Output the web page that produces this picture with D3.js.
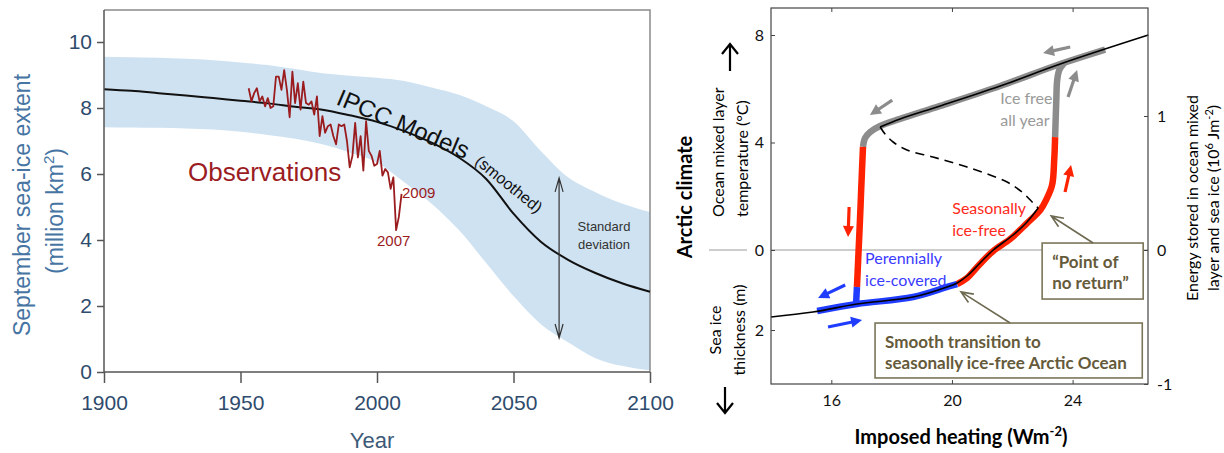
<!DOCTYPE html>
<html>
<head>
<meta charset="utf-8">
<script src="https://cdn.jsdelivr.net/npm/d3@7"></script>
<style>
  body { margin: 0; background: #fff; }
  svg { display: block; }
</style>
</head>
<body>
<script>
// ---------- left panel data: September sea-ice extent (million km2) ----------
var modelYears = [1900, 1910, 1920, 1930, 1940, 1950, 1960, 1970, 1980, 1990, 2000,
                  2010, 2020, 2030, 2040, 2050, 2060, 2070, 2080, 2090, 2100];
var modelMean  = [8.57, 8.52, 8.45, 8.38, 8.30, 8.22, 8.14, 8.04, 7.95, 7.78, 7.58,
                  7.30, 6.95, 6.50, 5.85, 4.80, 3.95, 3.40, 3.00, 2.68, 2.43];
var sdUpper    = [9.55, 9.54, 9.52, 9.49, 9.45, 9.38, 9.30, 9.18, 9.05, 8.98, 8.92,
                  8.82, 8.62, 8.40, 8.05, 7.60, 6.70, 5.90, 5.45, 5.10, 4.85];
var sdLower    = [7.42, 7.41, 7.40, 7.38, 7.35, 7.28, 7.18, 7.07, 6.90, 6.65, 6.35,
                  5.75, 5.10, 4.30, 3.30, 2.30, 1.45, 0.90, 0.42, 0.18, 0.05];

var obsYears = [1953, 1954, 1955, 1956, 1957, 1958, 1959, 1960, 1961, 1962, 1963, 1964,
                1965, 1966, 1967, 1968, 1969, 1970, 1971, 1972, 1973, 1974, 1975, 1976,
                1977, 1978, 1979, 1980, 1981, 1982, 1983, 1984, 1985, 1986, 1987, 1988,
                1989, 1990, 1991, 1992, 1993, 1994, 1995, 1996, 1997, 1998, 1999, 2000,
                2001, 2002, 2003, 2004, 2005, 2006, 2007, 2008, 2009];
var obsExtent = [8.60, 8.20, 8.45, 8.60, 8.20, 8.35, 8.05, 8.30, 8.00, 8.05, 8.95, 8.95,
                 8.55, 9.15, 8.55, 7.72, 9.10, 8.15, 8.75, 7.95, 8.80, 8.15, 8.10, 8.20,
                 7.80, 8.35, 7.15, 7.75, 7.25, 7.45, 7.50, 7.15, 6.90, 7.50, 7.45, 7.50,
                 7.00, 6.20, 6.55, 7.55, 6.50, 7.15, 6.10, 7.60, 6.70, 6.55, 6.25, 6.30,
                 6.70, 5.95, 6.15, 6.05, 5.55, 5.90, 4.30, 4.70, 5.40];

var extentTicks = [0, 2, 4, 6, 8, 10];
var yearTicks = [1900, 1950, 2000, 2050, 2100];
var sdArrow = {year: 2066.7, top: 5.88, bottom: 1.03};

// ---------- right panel data: Arctic climate vs imposed heating ----------
// points are [heating (W m-2), energy (10^6 J m-2)]
var lowerBranch = [[14.00, -0.500], [15.39, -0.463], [16.85, -0.403], [18.71, -0.351],
                   [19.84, -0.276], [20.17, -0.246], [20.50, -0.194], [20.93, -0.097],
                   [21.37, 0.000], [22.03, 0.112], [22.49, 0.209], [22.86, 0.313]];
var upperBranch = [[17.62, 0.918], [18.28, 0.978], [19.61, 1.075], [21.60, 1.224],
                   [23.59, 1.388], [26.51, 1.604]];
var unstableBranch = [[17.62, 0.918], [17.78, 0.866], [18.05, 0.806], [18.51, 0.746],
                      [19.37, 0.694], [20.50, 0.619], [21.83, 0.507], [22.36, 0.425],
                      [22.69, 0.351], [22.86, 0.313]];
var grayTop = [[25.08, 1.496], [23.59, 1.388], [21.60, 1.224], [19.61, 1.075],
               [18.28, 0.978], [17.62, 0.925], [17.29, 0.881], [17.12, 0.836], [17.05, 0.769]];
var redLeft = [[17.05, 0.769], [16.99, 0.448], [16.95, 0.224], [16.89, -0.075], [16.85, -0.276]];
var blueStub = [[16.85, -0.276], [16.82, -0.403]];
var blueLower = [[15.53, -0.455], [16.85, -0.403], [18.71, -0.351], [19.84, -0.276], [20.17, -0.254]];
var redRight = [[20.17, -0.254], [20.50, -0.209], [20.93, -0.104], [21.37, -0.007],
                [21.93, 0.082], [22.49, 0.201], [22.93, 0.299], [23.12, 0.373],
                [23.32, 0.485], [23.39, 0.672], [23.42, 0.843]];
var grayRight = [[23.42, 0.843], [23.46, 1.119], [23.49, 1.269], [23.56, 1.343], [23.72, 1.396]];

var heatTicks = [16, 20, 24];
var tempTicks = [0, 4, 8];
var thickTicks = [2];
var energyTicks = [-1, 0, 1];

var pathArrows = [
  {color: "#8c8c8c", from: [18.02, 1.119], to: [17.28, 1.007]},
  {color: "#8c8c8c", from: [23.92, 1.515], to: [23.02, 1.470]},
  {color: "#8c8c8c", from: [23.85, 1.142], to: [24.15, 1.343]},
  {color: "#ff2200", from: [16.59, 0.321], to: [16.555, 0.097]},
  {color: "#ff2200", from: [23.75, 0.433], to: [23.95, 0.634]},
  {color: "#1f3cff", from: [16.46, -0.261], to: [15.56, -0.358]},
  {color: "#1f3cff", from: [15.89, -0.575], to: [17.02, -0.522]}
];

var W = 1224, H = 453;
var svg = d3.select("body").append("svg").attr("width", W).attr("height", H);

// =================== LEFT PANEL ===================
var helv = "'Liberation Sans', Arial, Helvetica, sans-serif";
var xYear = d3.scaleLinear().domain([1900, 2100]).range([104, 650]);
var yExt = d3.scaleLinear().domain([0, 10]).range([372, 42]);
var plotTop = 10;

svg.append("clipPath").attr("id", "leftClip")
  .append("rect").attr("x", 104).attr("y", plotTop).attr("width", 546).attr("height", 362);

var left = svg.append("g");

//standard deviation band
var band = d3.area()
  .x(function(d, i){ return xYear(modelYears[i]); })
  .y0(function(d, i){ return yExt(sdLower[i]); })
  .y1(function(d, i){ return yExt(sdUpper[i]); })
  .curve(d3.curveMonotoneX);
left.append("path")
  .datum(modelYears)
  .attr("clip-path", "url(#leftClip)")
  .attr("d", band)
  .attr("fill", "#cfe2f1");

//frame (top and right)
left.append("path")
  .attr("d", "M104," + plotTop + "H650V372")
  .attr("fill", "none").attr("stroke", "#8a8a8a").attr("stroke-width", 1.5);

//model mean
var meanLine = d3.line()
  .x(function(d, i){ return xYear(modelYears[i]); })
  .y(function(d){ return yExt(d); })
  .curve(d3.curveMonotoneX);
left.append("path")
  .datum(modelMean)
  .attr("d", meanLine)
  .attr("fill", "none").attr("stroke", "#111").attr("stroke-width", 2);

//observations
var obsLine = d3.line()
  .x(function(d, i){ return xYear(obsYears[i]); })
  .y(function(d){ return yExt(d); });
left.append("path")
  .datum(obsExtent)
  .attr("d", obsLine)
  .attr("fill", "none").attr("stroke", "#9b1c1f").attr("stroke-width", 1.8)
  .attr("stroke-linejoin", "round");

//axes
var yAxisL = d3.axisLeft(yExt).tickValues(extentTicks).tickSize(7).tickPadding(5).tickFormat(d3.format("d"));
var gy = left.append("g").attr("transform", "translate(104,0)").call(yAxisL);
var xAxisL = d3.axisBottom(xYear).tickValues(yearTicks).tickSize(11).tickPadding(12).tickFormat(d3.format("d"));
var gx = left.append("g").attr("transform", "translate(0,372)").call(xAxisL);
[gy, gx].forEach(function(g){
  g.select(".domain").remove();
  g.selectAll(".tick line").attr("stroke", "#555").attr("stroke-width", 1.5);
  g.selectAll(".tick text").attr("fill", "#2e4b6d").style("font-family", helv).style("font-size", "21px");
});
left.append("path")
  .attr("d", "M104," + plotTop + "V372H650")
  .attr("fill", "none").attr("stroke", "#555").attr("stroke-width", 1.5);

//axis titles
left.append("text")
  .attr("transform", "translate(372,448)")
  .attr("text-anchor", "middle")
  .style("font-family", helv).style("font-size", "22px").attr("fill", "#3c5a78")
  .text("Year");
left.append("text")
  .attr("transform", "translate(22,205) rotate(-90)")
  .attr("text-anchor", "middle").attr("dy", "0.35em")
  .style("font-family", helv).style("font-size", "23px").attr("fill", "#4674a3")
  .text("September sea-ice extent");
var unit = left.append("text")
  .attr("transform", "translate(55,211) rotate(-90)")
  .attr("text-anchor", "middle").attr("dy", "0.35em")
  .style("font-family", helv).style("font-size", "23px").attr("fill", "#4674a3");
unit.append("tspan").text("(million km");
unit.append("tspan").attr("dy", -9).style("font-size", "15px").text("2");
unit.append("tspan").attr("dy", 9).text(")");

//labels
left.append("text").attr("x", 188).attr("y", 181)
  .style("font-family", helv).style("font-size", "26px").attr("fill", "#9b1c1f")
  .text("Observations");
left.append("text").attr("x", 402).attr("y", 198)
  .style("font-family", helv).style("font-size", "15px").attr("fill", "#9b1c1f")
  .text("2009");
left.append("text").attr("x", 377).attr("y", 246)
  .style("font-family", helv).style("font-size", "15px").attr("fill", "#9b1c1f")
  .text("2007");
left.append("text").attr("transform", "translate(335,104) rotate(23)")
  .style("font-family", helv).style("font-size", "24px").attr("fill", "#111")
  .text("IPCC Models");
left.append("text").attr("transform", "translate(474,163) rotate(39)")
  .style("font-family", helv).style("font-size", "16px").attr("fill", "#111")
  .text("(smoothed)");
left.append("text").attr("x", 604).attr("y", 231).attr("text-anchor", "middle")
  .style("font-family", helv).style("font-size", "13px").attr("fill", "#333")
  .text("Standard");
left.append("text").attr("x", 604).attr("y", 249).attr("text-anchor", "middle")
  .style("font-family", helv).style("font-size", "13px").attr("fill", "#333")
  .text("deviation");

//standard deviation double arrow
var ax = xYear(sdArrow.year), aTop = yExt(sdArrow.top), aBot = yExt(sdArrow.bottom);
left.append("path")
  .attr("d", "M" + ax + "," + aTop + "V" + aBot +
             "M" + (ax - 4) + "," + (aTop + 14) + "L" + ax + "," + aTop + "L" + (ax + 4) + "," + (aTop + 14) +
             "M" + (ax - 4) + "," + (aBot - 14) + "L" + ax + "," + aBot + "L" + (ax + 4) + "," + (aBot - 14))
  .attr("fill", "none").attr("stroke", "#333").attr("stroke-width", 1.2);

// =================== RIGHT PANEL ===================
var cal = "Lato, 'Open Sans', sans-serif";
var xH = d3.scaleLinear().domain([14, 26.5]).range([771, 1148]);
var yE = d3.scaleLinear().domain([-1, 1]).range([384, 116]);
var yT = d3.scaleLinear().domain([0, 8]).range([250, 35]);
var yI = d3.scaleLinear().domain([0, 2]).range([250, 330]);
var rTop = 8, rBot = 384, rLeft = 771, rRight = 1148;

var right = svg.append("g");

//zero line
right.append("line").attr("x1", rLeft).attr("x2", rRight).attr("y1", yE(0)).attr("y2", yE(0))
  .attr("stroke", "#9a9a9a").attr("stroke-width", 1);
right.append("line").attr("x1", 709).attr("x2", 747).attr("y1", yE(0)).attr("y2", yE(0))
  .attr("stroke", "#9a9a9a").attr("stroke-width", 1);

var curve = d3.line()
  .x(function(d){ return xH(d[0]); })
  .y(function(d){ return yE(d[1]); })
  .curve(d3.curveCatmullRom.alpha(0.5));

//thick coloured paths
[[grayTop, "#8c8c8c"], [grayRight, "#8c8c8c"], [redLeft, "#ff2200"], [redRight, "#ff2200"],
 [blueLower, "#1f3cff"], [blueStub, "#1f3cff"]].forEach(function(p){
  right.append("path").datum(p[0]).attr("d", curve)
    .attr("fill", "none").attr("stroke", p[1]).attr("stroke-width", 6.5)
    .attr("stroke-linejoin", "round");
});

//equilibrium branches
right.append("path").datum(lowerBranch).attr("d", curve)
  .attr("fill", "none").attr("stroke", "#000").attr("stroke-width", 1.6);
right.append("path").datum(upperBranch).attr("d", curve)
  .attr("fill", "none").attr("stroke", "#000").attr("stroke-width", 1.6);
right.append("path").datum(unstableBranch).attr("d", curve)
  .attr("fill", "none").attr("stroke", "#000").attr("stroke-width", 1.6)
  .attr("stroke-dasharray", "9,6");

//direction arrows
function solidArrow(g, x1, y1, x2, y2, color){
  var dx = x2 - x1, dy = y2 - y1, len = Math.sqrt(dx * dx + dy * dy);
  var ux = dx / len, uy = dy / len, hl = 11, hw = 5.5;
  var bx = x2 - ux * hl, by = y2 - uy * hl;
  g.append("line").attr("x1", x1).attr("y1", y1).attr("x2", bx + ux).attr("y2", by + uy)
    .attr("stroke", color).attr("stroke-width", 3.2);
  g.append("polygon")
    .attr("points", [[x2, y2], [bx - uy * hw, by + ux * hw], [bx + uy * hw, by - ux * hw]].join(" "))
    .attr("fill", color);
}
pathArrows.forEach(function(a){
  solidArrow(right, xH(a.from[0]), yE(a.from[1]), xH(a.to[0]), yE(a.to[1]), a.color);
});

//frame
right.append("rect").attr("x", rLeft).attr("y", rTop)
  .attr("width", rRight - rLeft).attr("height", rBot - rTop)
  .attr("fill", "none").attr("stroke", "#444").attr("stroke-width", 1.2);

//axes
function styleAxis(g){
  g.select(".domain").remove();
  g.selectAll(".tick line").attr("stroke", "#444");
  g.selectAll(".tick text").attr("fill", "#111").style("font-family", cal).style("font-size", "16px");
}
var fmt = function(d){ return String(d); };
right.append("g").attr("transform", "translate(0," + rBot + ")")
  .call(d3.axisBottom(xH).tickValues(heatTicks).tickSizeInner(-4).tickSizeOuter(0).tickPadding(11).tickFormat(fmt))
  .call(styleAxis);
right.append("g").attr("transform", "translate(0," + rTop + ")")
  .call(d3.axisTop(xH).tickValues(heatTicks).tickSizeInner(-4).tickSizeOuter(0).tickFormat(""))
  .call(styleAxis);
right.append("g").attr("transform", "translate(" + rLeft + ",0)")
  .call(d3.axisLeft(yT).tickValues(tempTicks).tickSizeInner(-4).tickSizeOuter(0).tickPadding(7).tickFormat(fmt))
  .call(styleAxis);
right.append("g").attr("transform", "translate(" + rLeft + ",0)")
  .call(d3.axisLeft(yI).tickValues(thickTicks).tickSizeInner(-4).tickSizeOuter(0).tickPadding(7).tickFormat(fmt))
  .call(styleAxis);
right.append("g").attr("transform", "translate(" + rRight + ",0)")
  .call(d3.axisRight(yE).tickValues(energyTicks).tickSizeInner(-4).tickSizeOuter(0).tickPadding(9).tickFormat(fmt))
  .call(styleAxis);

//axis titles
var xt = right.append("text").attr("x", 961).attr("y", 444).attr("text-anchor", "middle")
  .style("font-family", cal).style("font-size", "20px").style("font-weight", "bold").attr("fill", "#000");
xt.append("tspan").text("Imposed heating (Wm");
xt.append("tspan").attr("dy", -8).style("font-size", "13px").text("-2");
xt.append("tspan").attr("dy", 8).text(")");

right.append("text").attr("transform", "translate(685,197) rotate(-90)")
  .attr("text-anchor", "middle").attr("dy", "0.35em")
  .style("font-family", cal).style("font-size", "20px").style("font-weight", "bold").attr("fill", "#000")
  .text("Arctic climate");

function rotLines(x, y, anchor, lines, dx){
  lines.forEach(function(t, i){
    right.append("text").attr("transform", "translate(" + (x + i * dx) + "," + y + ") rotate(-90)")
      .attr("text-anchor", anchor).attr("dy", "0.35em")
      .style("font-family", cal).style("font-size", "16px").attr("fill", "#000")
      .text(t);
  });
}
rotLines(718, 217, "start", ["Ocean mixed layer", "temperature (\u00b0C)"], 24);
rotLines(715, 330, "middle", ["Sea ice", "thickness (m)"], 24);

var e1 = right.append("text").attr("transform", "translate(1192,198) rotate(-90)")
  .attr("text-anchor", "middle").attr("dy", "0.35em")
  .style("font-family", cal).style("font-size", "16px").attr("fill", "#000")
  .text("Energy stored in ocean mixed");
var e2 = right.append("text").attr("transform", "translate(1213,198) rotate(-90)")
  .attr("text-anchor", "middle").attr("dy", "0.35em")
  .style("font-family", cal).style("font-size", "16px").attr("fill", "#000");
e2.append("tspan").text("layer and sea ice (10");
e2.append("tspan").attr("dy", -6).style("font-size", "11px").text("6");
e2.append("tspan").attr("dy", 6).text(" Jm");
e2.append("tspan").attr("dy", -6).style("font-size", "11px").text("-2");
e2.append("tspan").attr("dy", 6).text(")");

//black up/down arrows beside the axis titles
right.append("path").attr("d", "M730,71V45M722,54L730,44L738,54")
  .attr("fill", "none").attr("stroke", "#000").attr("stroke-width", 2.2);
right.append("path").attr("d", "M725,387V412M717,403L725,413L733,403")
  .attr("fill", "none").attr("stroke", "#000").attr("stroke-width", 2.2);

//regime labels
function label(F, E, lines, color){
  lines.forEach(function(t, i){
    right.append("text").attr("x", xH(F)).attr("y", yE(E) + i * 22)
      .style("font-family", cal).style("font-size", "16px").attr("fill", color).text(t);
  });
}
label(21.60, 1.09, ["Ice free", "all year"], "#9a9a9a");
label(20.01, 0.269, ["Seasonally", "ice-free"], "#ff2a1a");
label(17.12, -0.104, ["Perennially", "ice-covered"], "#3b3bff");

//annotation boxes
var olive = "#7a7558";
function box(F0, E0, F1, E1, lines){
  right.append("rect").attr("x", xH(F0)).attr("y", yE(E0))
    .attr("width", xH(F1) - xH(F0)).attr("height", yE(E1) - yE(E0))
    .attr("fill", "#fff").attr("stroke", olive).attr("stroke-width", 1.6);
  lines.forEach(function(t, i){
    right.append("text").attr("x", xH(F0) + 10).attr("y", yE(E0) + 25 + i * 21)
      .style("font-family", cal).style("font-size", "17px").style("font-weight", "bold")
      .attr("fill", "#655a3a").text(t);
  });
}
box(22.99, 0.052, 26.34, -0.366, ["\u201cPoint of", "no return\u201d"]);
box(17.45, -0.545, 26.31, -0.955, ["Smooth transition to", "seasonally ice-free Arctic Ocean"]);

function openArrow(g, x1, y1, x2, y2, color){
  var dx = x2 - x1, dy = y2 - y1, len = Math.sqrt(dx * dx + dy * dy);
  var ux = dx / len, uy = dy / len, hl = 12, hw = 5;
  var bx = x2 - ux * hl, by = y2 - uy * hl;
  g.append("path")
    .attr("d", "M" + x1 + "," + y1 + "L" + x2 + "," + y2 +
      "M" + (bx - uy * hw) + "," + (by + ux * hw) + "L" + x2 + "," + y2 + "L" + (bx + uy * hw) + "," + (by - ux * hw))
    .attr("fill", "none").attr("stroke", color).attr("stroke-width", 1.6);
}
openArrow(right, xH(24.68), yE(0.052), xH(23.29), yE(0.254), "#6e6a52");
openArrow(right, xH(21.93), yE(-0.545), xH(20.30), yE(-0.313), "#6e6a52");
</script>
</body>
</html>
